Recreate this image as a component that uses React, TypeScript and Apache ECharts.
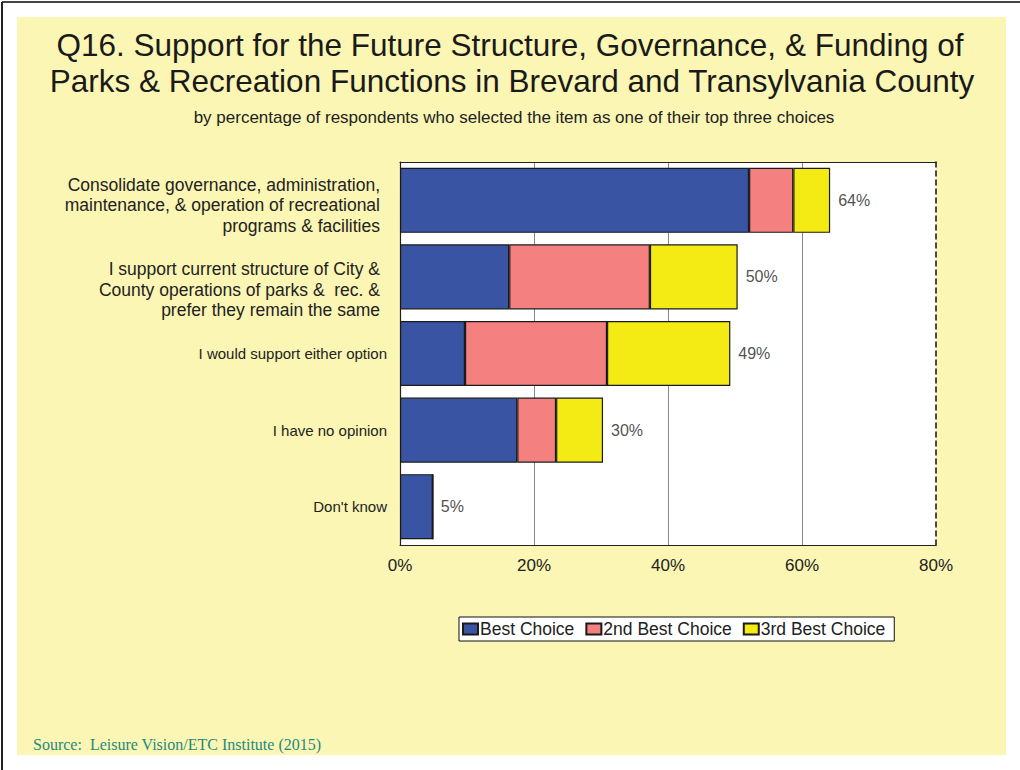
import React, { useEffect, useRef } from "react";
import * as echarts from "echarts";

const categories = [
  "Consolidate governance, administration,\nmaintenance, & operation of recreational\nprograms & facilities",
  "I support current structure of City &\nCounty operations of parks &  rec. &\nprefer they remain the same",
  "I would support either option",
  "I have no opinion",
  "Don't know",
];
const bestChoice = [52.1, 16.3, 9.7, 17.5, 4.9];
const secondChoice = [6.6, 21.0, 21.2, 5.8, 0];
const thirdChoice = [5.5, 13.1, 18.4, 7.0, 0];
const totals = [64, 50, 49, 30, 5];
const xTicks = [0, 20, 40, 60, 80];

export default function App() {
  const ref = useRef<HTMLDivElement>(null);
  useEffect(() => {
    document.body.style.margin = "0";
    const chart = echarts.init(ref.current!, null, { renderer: "svg" });
    const font = "Liberation Sans, Arial, sans-serif";
    const barBorder = { borderColor: "#1a1a1a", borderWidth: 1.2 };
    const labelShift = [10, 26, 0, 0, 0];
    chart.setOption({
      animation: false,
      backgroundColor: "#ffffff",
      textStyle: { fontFamily: font },
      graphic: [
        { type: "rect", shape: { x: 17, y: 17, width: 989, height: 738 }, style: { fill: "#fbf6b4" }, z: -10 },
        { type: "line", shape: { x1: 2, y1: 2, x2: 1020, y2: 2 }, style: { stroke: "#444", lineWidth: 2 }, z: -5 },
        { type: "line", shape: { x1: 2, y1: 2, x2: 2, y2: 770 }, style: { stroke: "#222", lineWidth: 2 }, z: -5 },
        { type: "rect", shape: { x: 400, y: 162, width: 536, height: 383 }, style: { fill: "#ffffff" }, z: -4 },
        {
          type: "text",
          x: 510,
          y: 45,
          style: {
            text: "Q16. Support for the Future Structure, Governance, & Funding of",
            fill: "#1a1a1a",
            font: "31.5px 'Liberation Sans', Arial, sans-serif",
            textAlign: "center",
            textVerticalAlign: "middle",
          },
        },
        {
          type: "text",
          x: 512,
          y: 81,
          style: {
            text: "Parks & Recreation Functions in Brevard and Transylvania County",
            fill: "#1a1a1a",
            font: "31.5px 'Liberation Sans', Arial, sans-serif",
            textAlign: "center",
            textVerticalAlign: "middle",
          },
        },
        {
          type: "text",
          x: 514,
          y: 117,
          style: {
            text: "by percentage of respondents who selected the item as one of their top three choices",
            fill: "#222",
            font: "17px 'Liberation Sans', Arial, sans-serif",
            textAlign: "center",
            textVerticalAlign: "middle",
          },
        },
        {
          type: "text",
          left: 33,
          top: 736,
          style: { text: "Source:  Leisure Vision/ETC Institute (2015)", fill: "#1f8a7e", font: "16px 'Liberation Serif', 'Times New Roman', serif" },
        },
      ],
      legend: {
        data: ["Best Choice", "2nd Best Choice", "3rd Best Choice"],
        left: 459,
        top: 617,
        backgroundColor: "#ffffff",
        borderColor: "#111",
        borderWidth: 1,
        padding: [3, 9, 3, 3],
        itemGap: 11,
        itemWidth: 15,
        itemHeight: 11,
        icon: "rect",
        textStyle: { fontSize: 17.5, color: "#222", padding: [0, 0, 0, -3], fontFamily: font },
      },
      grid: { left: 400, right: 84, top: 162, bottom: 225, containLabel: false },
      xAxis: [
        {
          type: "value",
          min: 0,
          max: 80,
          interval: 20,
          axisLine: { show: true, lineStyle: { color: "#222", width: 1.2 } },
          axisTick: { show: false },
          axisLabel: { formatter: (v: number) => (xTicks.includes(v) ? v + "%" : ""), fontSize: 17, color: "#222", margin: 12 },
          splitLine: { show: true, lineStyle: { color: ["#888", "#888", "#888", "#888", "rgba(0,0,0,0)"], width: 1 } },
        },
        {
          type: "value",
          position: "top",
          min: 0,
          max: 80,
          interval: 20,
          axisLine: { show: true, onZero: false, lineStyle: { color: "#222", width: 1.2 } },
          axisTick: { show: false },
          axisLabel: { show: false },
          splitLine: { show: false },
        },
      ],
      yAxis: [
        {
          type: "category",
          data: categories.map((c, i) => ({ value: c, textStyle: { padding: [labelShift[i], 0, 0, 0] } })),
          inverse: true,
          axisLine: { show: true, lineStyle: { color: "#222", width: 1.2 } },
          axisTick: { show: false },
          axisLabel: {
            margin: 13,
            color: "#222",
            formatter: (v: string) => (v.indexOf("\n") >= 0 ? "{a|" + v.split("\n").join("}\n{a|") + "}" : "{b|" + v + "}"),
            rich: {
              a: { fontSize: 17.5, lineHeight: 20.5, color: "#222", align: "right", fontFamily: font, padding: [0, 7, 0, 0] },
              b: { fontSize: 15, color: "#222", align: "right", fontFamily: font },
            },
          },
        },
        {
          type: "category",
          data: categories,
          inverse: true,
          position: "right",
          axisLine: { show: true, onZero: false, lineStyle: { color: "#111", width: 1.5, type: [5, 4] } },
          axisTick: { show: false },
          axisLabel: { show: false },
        },
      ],
      series: [
        {
          name: "Best Choice",
          type: "bar",
          stack: "t",
          data: bestChoice,
          barCategoryGap: "15%",
          itemStyle: { color: "#3a54a4", ...barBorder },
        },
        {
          name: "2nd Best Choice",
          type: "bar",
          stack: "t",
          data: secondChoice,
          itemStyle: { color: "#f48080", ...barBorder },
        },
        {
          name: "3rd Best Choice",
          type: "bar",
          stack: "t",
          data: thirdChoice,
          itemStyle: { color: "#f5eb14", ...barBorder },
        },
        {
          name: "total",
          type: "scatter",
          data: totals.map((t, i) => [
            bestChoice[i] + secondChoice[i] + thirdChoice[i],
            categories[i],
          ]),
          symbolSize: 0,
          label: {
            show: true,
            position: "right",
            distance: 8,
            fontSize: 16,
            color: "#222",
            formatter: (p: any) => totals[p.dataIndex] + "%",
          },
          silent: true,
        },
      ],
    });
    return () => chart.dispose();
  }, []);
  return <div ref={ref} style={{ width: 1020, height: 770 }} />;
}
